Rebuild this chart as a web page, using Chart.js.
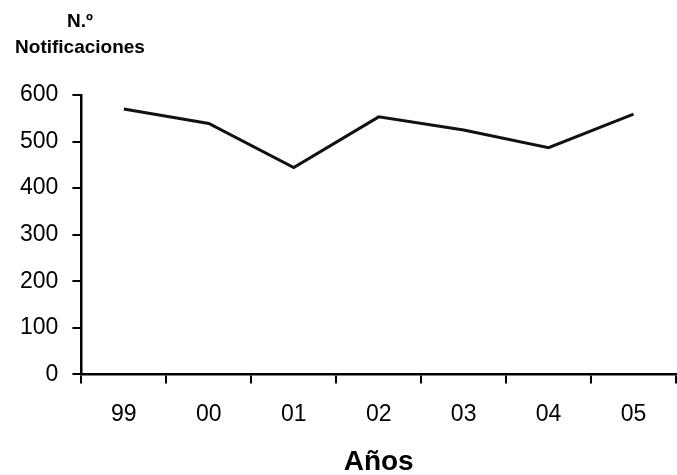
<!DOCTYPE html>
<html>
<head>
<meta charset="utf-8">
<script src="https://cdn.jsdelivr.net/npm/chart.js@4"></script>
<style>
html,body{margin:0;padding:0;background:#fff;}
#wrap{width:677px;height:475px;position:relative;}
</style>
</head>
<body>
<div id="wrap"><canvas id="c" width="677" height="475"></canvas></div>
<script>
const years = ['99', '00', '01', '02', '03', '04', '05'];
const notificaciones = [570, 539, 444, 553, 525, 487, 559];
const yTicks = [0, 100, 200, 300, 400, 500, 600];
const yTitleLines = ['N.º', 'Notificaciones'];
const xTitle = 'Años';

const FONT = "'Liberation Sans', Arial, Helvetica, sans-serif";

const titlesPlugin = {
  id: 'titles',
  afterDraw(chart) {
    const ctx = chart.ctx;
    const area = chart.chartArea;
    ctx.save();
    ctx.fillStyle = '#000';
    ctx.textAlign = 'center';
    ctx.textBaseline = 'alphabetic';
    ctx.font = "bold 19px " + FONT;
    ctx.fillText(yTitleLines[0], 80, 27);
    ctx.fillText(yTitleLines[1], 80, 53);
    ctx.font = "bold 28px " + FONT;
    ctx.fillText(xTitle, (area.left + area.right) / 2, 470);
    ctx.restore();
  }
};

new Chart(document.getElementById('c'), {
  type: 'line',
  data: {
    labels: years,
    datasets: [{
      data: notificaciones,
      borderColor: '#111',
      borderWidth: 3,
      pointRadius: 0,
      tension: 0,
      fill: false
    }]
  },
  options: {
    responsive: false,
    animation: false,
    devicePixelRatio: 1,
    layout: { padding: { top: 95, left: 6, right: 1, bottom: 30 } },
    plugins: { legend: { display: false }, tooltip: { enabled: false } },
    scales: {
      x: {
        type: 'category',
        offset: true,
        grid: {
          offset: true,
          drawOnChartArea: false,
          drawTicks: true,
          tickLength: 9,
          color: '#000',
          lineWidth: 2
        },
        border: { display: true, color: '#000', width: 2.5 },
        ticks: { color: '#000', font: { family: FONT, size: 23 }, padding: 17, maxRotation: 0 }
      },
      y: {
        min: 0,
        max: 600,
        afterBuildTicks(axis) { axis.ticks = yTicks.map(v => ({ value: v })); },
        grid: {
          drawOnChartArea: false,
          drawTicks: true,
          tickLength: 9,
          color: '#000',
          lineWidth: 2
        },
        border: { display: true, color: '#000', width: 2.5 },
        ticks: { color: '#000', font: { family: FONT, size: 23 }, padding: 14 }
      }
    }
  },
  plugins: [titlesPlugin]
});
</script>
</body>
</html>
